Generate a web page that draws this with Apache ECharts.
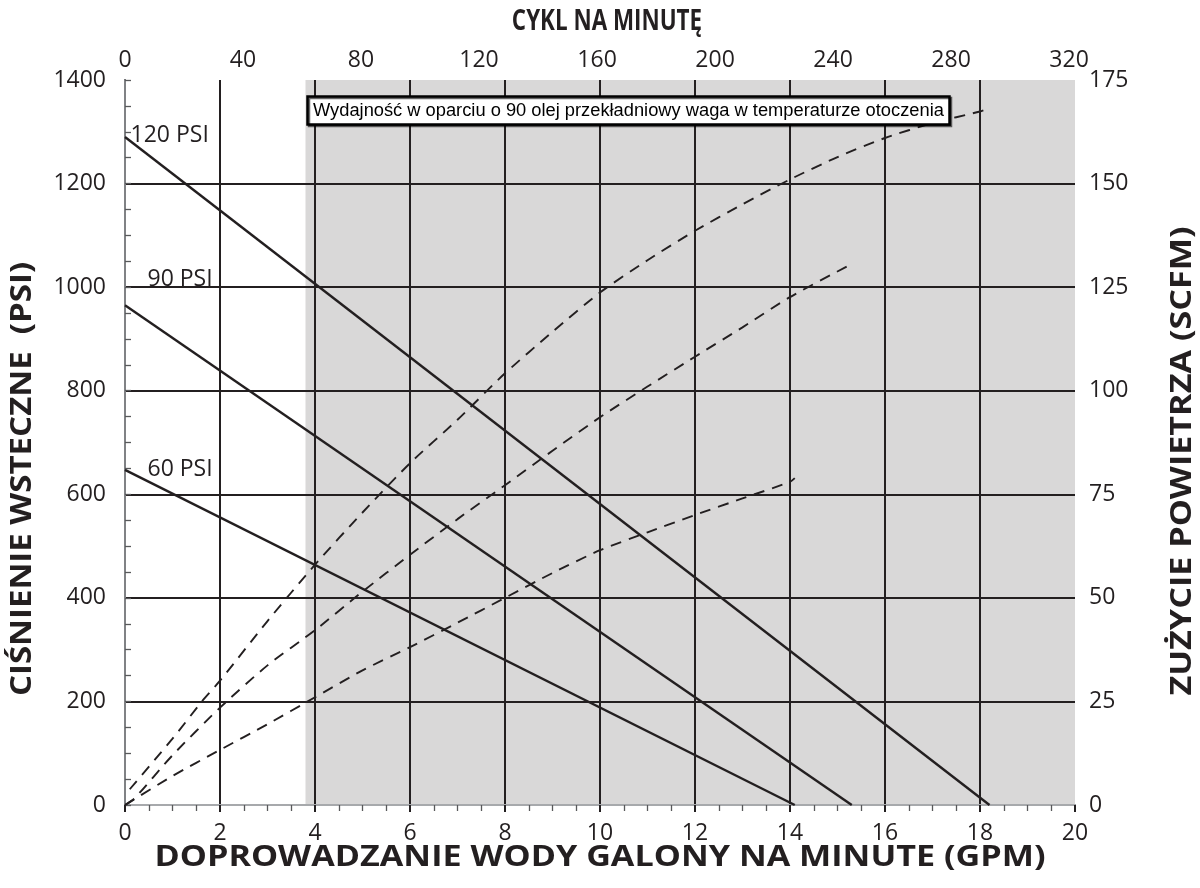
<!DOCTYPE html>
<html>
<head>
<meta charset="utf-8">
<script src="https://cdn.jsdelivr.net/npm/echarts@6/dist/echarts.min.js"></script>
<style>
  html, body { margin: 0; padding: 0; background: #ffffff; }
  #chart { width: 1200px; height: 888px; }
</style>
</head>
<body>
<div id="chart"></div>
<script>
// Back pressure (PSI) versus water delivery (GPM) for each air inlet pressure
const backPressure120 = [[0, 1290], [18.2, 0]];
const backPressure90 = [[0, 965], [15.3, 0]];
const backPressure60 = [[0, 647], [14.1, 0]];
const pressureLabels = ['120 PSI', '90 PSI', '60 PSI'];

// Air consumption (SCFM) versus water delivery (GPM)
const air120 = [[0.1, 3.8], [1, 16], [1.62, 25], [2, 30], [3, 44.4], [4, 58], [5, 70.6], [6, 82.5],
  [7, 93], [8, 104.2], [9, 114.2], [10, 123.7], [11, 131.5], [12, 138.6], [13, 145], [14, 151],
  [15, 156.4], [16, 161], [17, 164.6], [18, 167.4], [18.2, 168.2]];
const air90 = [[0, 0], [0.2, 1.6], [1, 12], [2, 23.5], [3, 33.7], [4, 42.2], [5, 51.5], [6, 60.4],
  [7, 69], [8, 77.2], [9, 85.5], [10, 93.6], [11, 101], [12, 108.2], [13, 115.3], [14, 122.6], [15.3, 130.6]];
const air60 = [[0, 0], [1, 7], [2, 13.3], [3, 19.5], [4, 26], [5, 32.5], [6, 38.1], [7, 44], [8, 50],
  [9, 56], [10, 61.5], [11, 65.8], [12, 70], [13, 74], [14, 78], [14.1, 78.9]];

// Axis ranges and tick steps
const gpmRange = [0, 20, 2];
const psiRange = [0, 1400, 200];
const scfmRange = [0, 175, 25];
const cycleRange = [0, 322, 40];
const shadeStartGpm = 3.8;

// Texts
const titleBottom = 'DOPROWADZANIE WODY GALONY NA MINUTE (GPM)';
const titleTop = 'CYKL NA MINUTĘ';
const titleLeft = 'CIŚNIENIE WSTECZNE  (PSI)';
const titleRight = 'ZUŻYCIE POWIETRZA (SCFM)';
const noteText = 'Wydajność w oparciu o 90 olej przekładniowy waga w temperaturze otoczenia';

const ink = '#231f20';
const tickFont = { fontFamily: 'Open Sans', fontSize: 23, color: ink };
const curveLabelFont = { fontFamily: 'Open Sans', fontSize: 23, color: ink };
const titleFontCss = 'bold 28px "Open Sans"';

const chart = echarts.init(document.getElementById('chart'), null, { renderer: 'canvas' });

function pressureLine(data, label, offset) {
  return {
    type: 'line', xAxisIndex: 0, yAxisIndex: 0, data: data,
    symbol: 'none', silent: true, z: 4,
    lineStyle: { color: ink, width: 2.4 },
    markPoint: {
      symbol: 'circle', symbolSize: 1, silent: true,
      itemStyle: { color: 'rgba(0,0,0,0)' },
      label: {
        show: true, position: 'right', distance: 5, offset: offset,
        formatter: '{b}', ...curveLabelFont
      },
      data: [{ name: label, coord: data[0] }]
    }
  };
}

function airLine(data) {
  return {
    type: 'line', xAxisIndex: 0, yAxisIndex: 1, data: data,
    symbol: 'none', silent: true, smooth: 0.25, z: 4,
    lineStyle: { color: ink, width: 1.9, type: [11, 8] }
  };
}

function axisTitle(text, x, y, rotation, scaleX) {
  return {
    type: 'text', x: x, y: y, rotation: rotation, scaleX: scaleX, silent: true, z: 10,
    style: { text: text, font: titleFontCss, fill: ink, align: 'center', verticalAlign: 'middle' }
  };
}

const plainNumber = v => String(v);

chart.setOption({
  animation: false,
  backgroundColor: '#ffffff',
  title: {
    text: noteText,
    left: 307, top: 96,
    backgroundColor: '#ffffff',
    borderColor: '#000000', borderWidth: 2.5,
    padding: [4, 6, 3, 6],
    shadowColor: 'rgba(0,0,0,0.6)', shadowOffsetX: 1.5, shadowOffsetY: 1.5, shadowBlur: 0,
    textStyle: { fontFamily: 'Liberation Sans', fontWeight: 'normal', fontSize: 18.3, color: '#000', lineHeight: 22 }
  },
  grid: { left: 125, right: 125, top: 80, bottom: 83, containLabel: false, outerBoundsMode: 'none' },
  graphic: [
    axisTitle(titleBottom, 600, 858, 0, 1.22),
    axisTitle(titleTop, 607, 22, 0, 0.8),
    axisTitle(titleLeft, 23, 479, Math.PI / 2, 1.18),
    axisTitle(titleRight, 1183, 461, Math.PI / 2, 1.22)
  ],
  xAxis: [
    {
      type: 'value', position: 'bottom', min: gpmRange[0], max: gpmRange[1], interval: gpmRange[2], z: 3,
      axisLine: { show: true, lineStyle: { color: '#58595b', width: 2 } },
      axisTick: { show: false },
      minorTick: { show: true, splitNumber: 4, length: 6, lineStyle: { color: '#58595b', width: 1.3 } },
      axisLabel: { ...tickFont, margin: 17, formatter: plainNumber },
      splitLine: { show: true, showMinLine: false, showMaxLine: false, lineStyle: { color: ink, width: 2 } }
    },
    {
      type: 'value', position: 'top', min: cycleRange[0], max: cycleRange[1], interval: cycleRange[2], z: 3,
      axisLine: { show: true, lineStyle: { color: '#a7a9ac', width: 2 } },
      axisTick: { show: false },
      axisLabel: { ...tickFont, margin: 8, showMaxLabel: false, formatter: plainNumber },
      splitLine: { show: false }
    },
    {
      // outward tick stubs under the vertical grid lines
      type: 'value', position: 'bottom', min: gpmRange[0], max: gpmRange[1], interval: gpmRange[2], z: 3,
      axisLine: { show: false },
      axisTick: { show: true, inside: false, length: 7, lineStyle: { color: ink, width: 2 } },
      axisLabel: { show: false },
      splitLine: { show: false }
    }
  ],
  yAxis: [
    {
      type: 'value', position: 'left', min: psiRange[0], max: psiRange[1], interval: psiRange[2], z: 3,
      axisLine: { show: true, lineStyle: { color: ink, width: 2 } },
      axisTick: { show: true, inside: true, length: 6, lineStyle: { color: '#58595b', width: 1.3 } },
      minorTick: { show: true, splitNumber: 4, length: 6, lineStyle: { color: '#58595b', width: 1.3 } },
      axisLabel: { ...tickFont, margin: 19, formatter: plainNumber },
      splitLine: { show: true, showMinLine: false, showMaxLine: false, lineStyle: { color: ink, width: 2 } }
    },
    {
      type: 'value', position: 'right', min: scfmRange[0], max: scfmRange[1], interval: scfmRange[2], z: 3,
      axisLine: { show: true, lineStyle: { color: '#808285', width: 2 } },
      axisTick: { show: false },
      axisLabel: { ...tickFont, margin: 14, formatter: plainNumber },
      splitLine: { show: false }
    }
  ],
  series: [
    {
      // shaded band behind the grid
      type: 'line', xAxisIndex: 0, yAxisIndex: 0, data: [], z: 0, silent: true,
      markArea: {
        silent: true, z: 0,
        itemStyle: { color: '#d9d8d8' },
        data: [[{ xAxis: shadeStartGpm }, { xAxis: gpmRange[1] }]]
      }
    },
    pressureLine(backPressure120, pressureLabels[0], [0, -2]),
    pressureLine(backPressure90, pressureLabels[1], [17, -26]),
    pressureLine(backPressure60, pressureLabels[2], [17, 0]),
    airLine(air120),
    airLine(air90),
    airLine(air60)
  ]
});
</script>
</body>
</html>
